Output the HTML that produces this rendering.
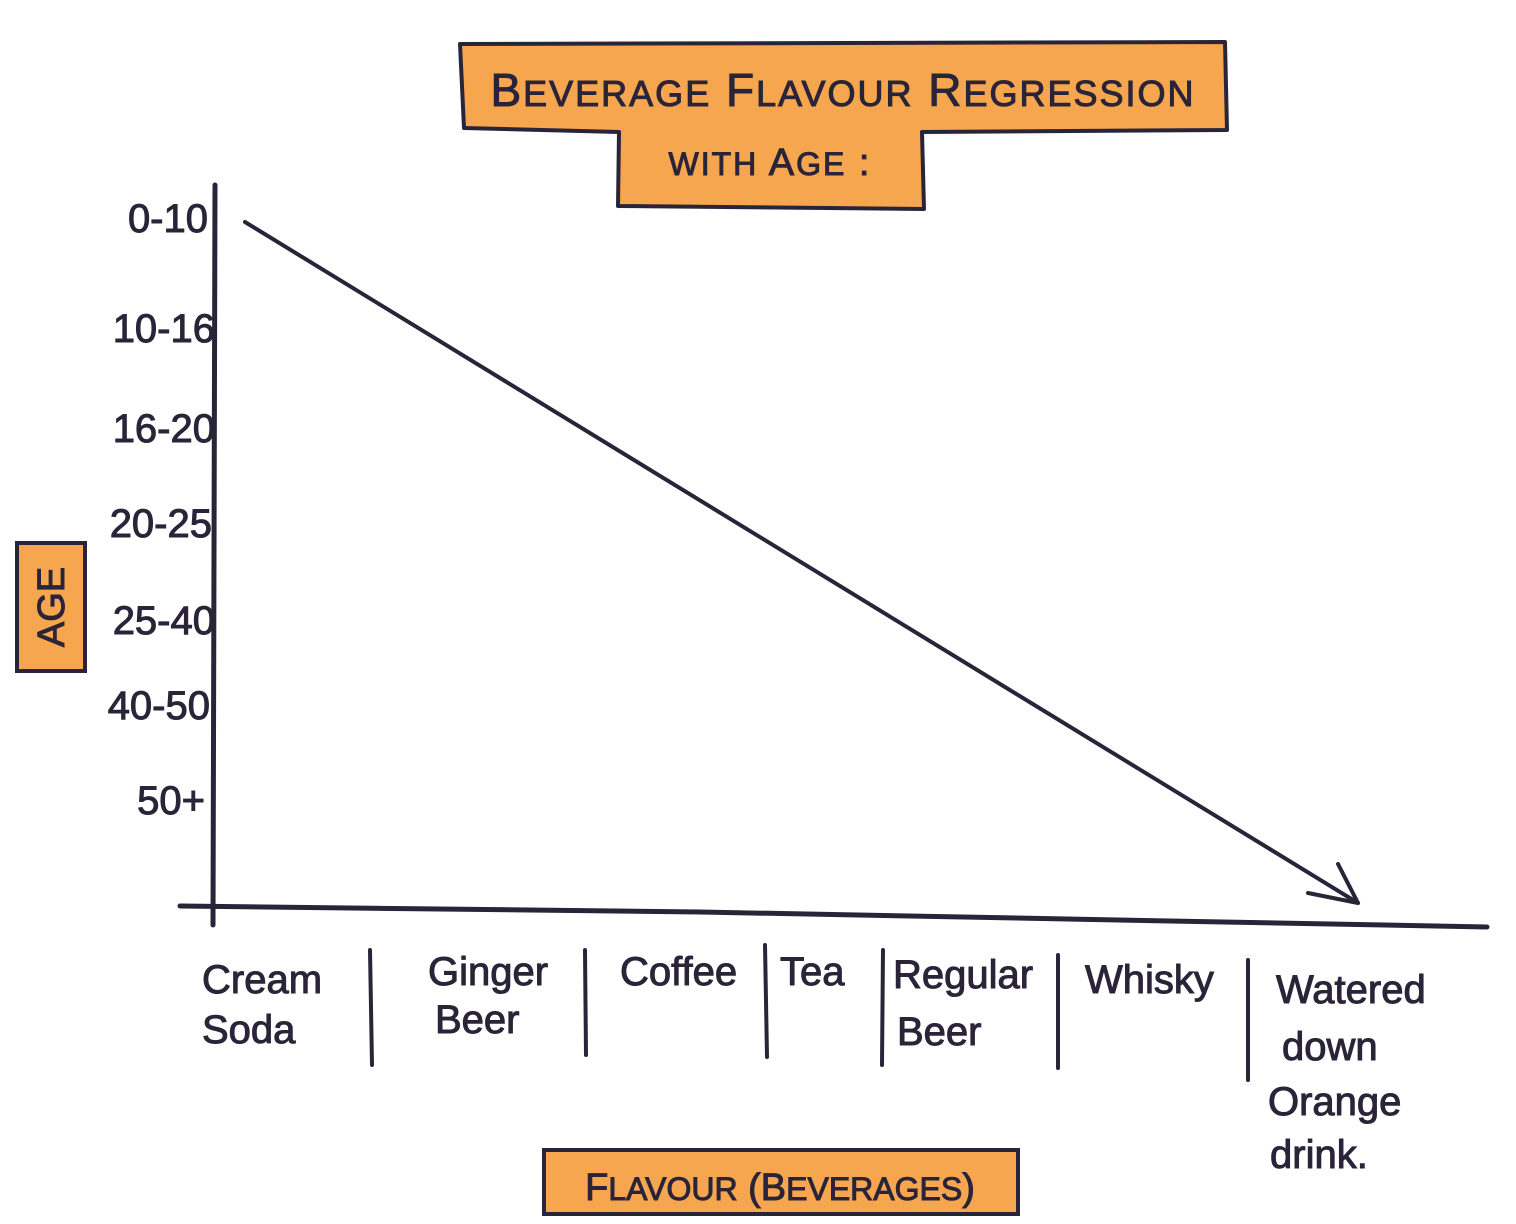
<!DOCTYPE html>
<html><head><meta charset="utf-8"><style>
html,body{margin:0;padding:0;background:#fff}
svg{display:block}
text{font-family:"Liberation Sans",sans-serif;fill:#2a2438;stroke:#2a2438;stroke-width:1}
</style></head><body>
<svg width="1516" height="1224" viewBox="0 0 1516 1224" xmlns="http://www.w3.org/2000/svg">
<rect width="1516" height="1224" fill="#fff"/>
<path d="M460,44 L1225,42 L1227,130 L922,132 L924,209 L618,206 L619,132 L464,128 Z" fill="#F7A650" stroke="#2a2438" stroke-width="4" stroke-linejoin="round"/>
<text x="843" y="106" font-size="46" text-anchor="middle" letter-spacing="2">B<tspan font-size="36">EVERAGE</tspan> F<tspan font-size="36">LAVOUR</tspan> R<tspan font-size="36">EGRESSION</tspan></text>
<text x="770" y="175" font-size="38" text-anchor="middle" letter-spacing="2"><tspan font-size="32">WITH</tspan> A<tspan font-size="32">GE</tspan> :</text>
<path d="M215,185 L213,925" stroke="#2a2438" stroke-width="5" fill="none" stroke-linecap="round"/>
<path d="M180,906 L700,912 L1487,927" stroke="#2a2438" stroke-width="5" fill="none" stroke-linecap="round"/>
<path d="M245,222 L1358,903" stroke="#2a2438" stroke-width="4" fill="none" stroke-linecap="round"/>
<path d="M1308,893 L1358,903 L1338,864" stroke="#2a2438" stroke-width="4" fill="none" stroke-linecap="round" stroke-linejoin="round"/>
<g font-size="40" text-anchor="end">
<text x="208" y="232">0-10</text>
<text x="215" y="342">10-16</text>
<text x="215" y="442">16-20</text>
<text x="212" y="537">20-25</text>
<text x="215" y="634">25-40</text>
<text x="210" y="719">40-50</text>
<text x="205" y="814">50+</text>
</g>
<rect x="17" y="543" width="68" height="128" fill="#F7A650" stroke="#2a2438" stroke-width="4"/>
<text transform="translate(64,607) rotate(-90)" font-size="38" text-anchor="middle">AGE</text>
<g stroke="#2a2438" stroke-width="4" stroke-linecap="round">
<line x1="370" y1="950" x2="372" y2="1065"/>
<line x1="585" y1="950" x2="586" y2="1055"/>
<line x1="765" y1="945" x2="767" y2="1057"/>
<line x1="883" y1="950" x2="882" y2="1065"/>
<line x1="1058" y1="955" x2="1058" y2="1068"/>
<line x1="1248" y1="960" x2="1248" y2="1080"/>
</g>
<g font-size="40">
<text x="202" y="993">Cream</text>
<text x="202" y="1043">Soda</text>
<text x="428" y="985">Ginger</text>
<text x="435" y="1033">Beer</text>
<text x="620" y="985">Coffee</text>
<text x="780" y="985">Tea</text>
<text x="893" y="988">Regular</text>
<text x="897" y="1045">Beer</text>
<text x="1085" y="993">Whisky</text>
<text x="1276" y="1003">Watered</text>
<text x="1282" y="1060">down</text>
<text x="1268" y="1115">Orange</text>
<text x="1270" y="1168">drink.</text>
</g>
<rect x="544" y="1150" width="474" height="64" fill="#F7A650" stroke="#2a2438" stroke-width="4"/>
<text x="780" y="1200" font-size="38" text-anchor="middle">F<tspan font-size="32">LAVOUR</tspan> (B<tspan font-size="32">EVERAGES</tspan>)</text>
</svg>
</body></html>
